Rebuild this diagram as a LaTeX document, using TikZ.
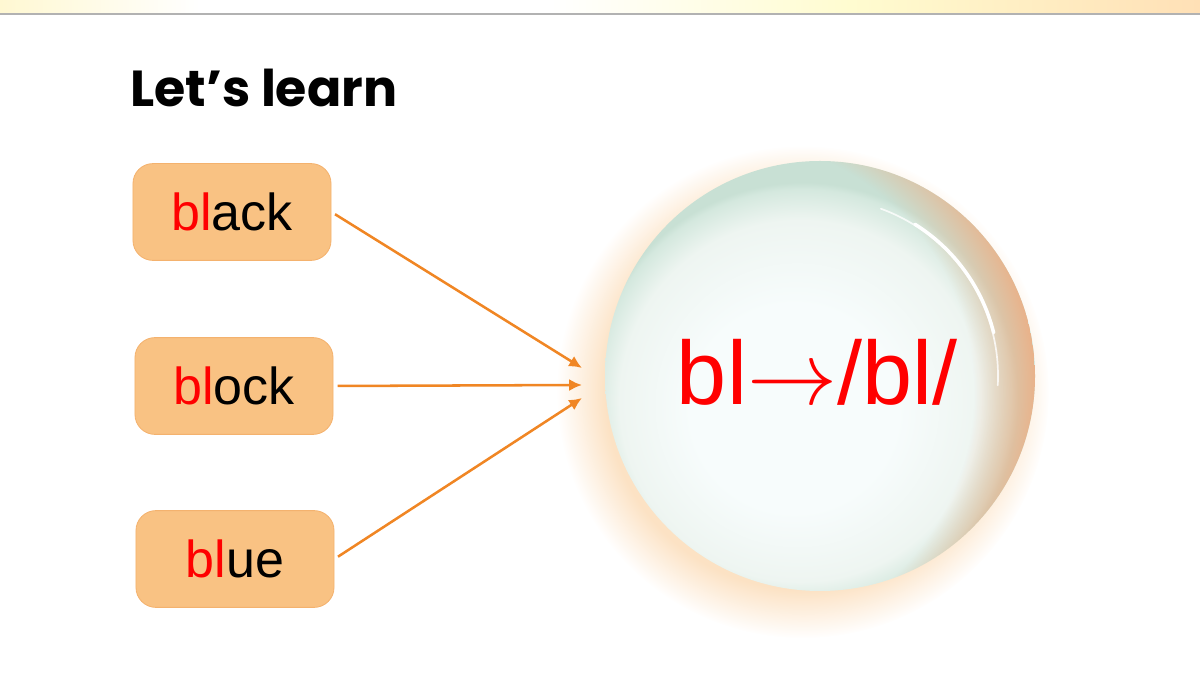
\documentclass[tikz,border=0pt]{standalone}
\usepackage{fix-cm}
\usepackage{fontspec}
\setmainfont{Liberation Sans}
\newfontfamily\titlefont{Poppins}
\usetikzlibrary{arrows.meta,positioning,fadings}
\definecolor{boxfill}{RGB}{249,194,131}
\definecolor{boxline}{RGB}{244,178,110}
\definecolor{linkorange}{RGB}{240,134,36}
\definecolor{ballcore}{RGB}{247,252,252}
\definecolor{ballsoft}{RGB}{238,245,241}
\definecolor{ballmint}{RGB}{212,232,222}
\definecolor{balledge}{RGB}{200,224,212}
\definecolor{ballpeach}{RGB}{238,172,128}
\definecolor{glowpeach}{RGB}{252,226,196}
\definecolor{bandyellow}{RGB}{255,248,210}
\definecolor{bandlemon}{RGB}{255,252,208}
\definecolor{bandpeach}{RGB}{255,224,182}
% body of the ball and its warm rim (25bp = edge of the path)
\pgfdeclareradialshading{ballshade}{\pgfpoint{-4bp}{-5bp}}{color(0bp)=(ballcore); color(12bp)=(ballcore); color(21bp)=(ballsoft); color(24.3bp)=(ballmint); color(25bp)=(balledge); color(50bp)=(balledge)}
\pgfdeclareradialshading{rimshade}{\pgfpointorigin}{color(0bp)=(black); color(20bp)=(black); color(25bp)=(white); color(50bp)=(white)}
\pgfdeclarefading{rimfade}{\pgfuseshading{rimshade}}

\begin{document}
\begin{tikzpicture}[x=0.025cm, y=0.025cm,
    word/.style={rectangle, rounded corners=0.5cm, fill=boxfill, draw=boxline, line width=0.6pt, minimum width=4.95cm, minimum height=2.42cm, font=\fontsize{37}{40}\selectfont},
    link/.style={-{Latex[length=0.32cm, width=0.3cm]}, draw=linkorange, fill=linkorange, line width=1.8pt, shorten <=3pt},
    glare/.style={white, line cap=round}
  ]
    \useasboundingbox (0,0) rectangle (1200,675);
    % top band
    \shade[left color=bandyellow, right color=white] (0,661) rectangle (200,675);
    \fill[white] (200,661) rectangle (550,675);
    \shade[left color=white, right color=bandlemon] (550,661) rectangle (850,675);
    \shade[left color=bandlemon, right color=bandpeach] (850,661) rectangle (1200,675);
    \draw[black!30, line width=1pt] (0,661) -- (1200,661);

    \node[anchor=base west, inner sep=0pt, font=\titlefont\bfseries\fontsize{36}{40}\selectfont] (title) at (130,568) {Let’s learn};

    \node[word] (black) at (232,463) {\textcolor{red}{bl}ack};
    \node[word] (block) at (234,289) {\textcolor{red}{bl}ock};
    \node[word] (blue) at (235,116) {\textcolor{red}{bl}ue};

    % the ball
    \coordinate (ball) at (820,299);
    \fill[glowpeach, path fading=circle with fuzzy edge 20 percent] (803,283) circle (246);
    \shade[shading=ballshade] (ball) circle (215);
    \begin{scope}
      \clip (ball) circle (215);
      \fill[ballpeach, opacity=0.9, path fading=rimfade] ([shift={(-100,-15)}]ball) circle (316);
    \end{scope}
    \draw[glare, line width=1.2pt, opacity=0.8] ([shift={(70:178)}]ball) arc (70:-3:178);
    \draw[glare, line width=2.4pt] ([shift={(58:179)}]ball) arc (58:14:179);

    \node[anchor=base, inner sep=0pt, text=red, font=\fontsize{64}{70}\selectfont] (sound) at (817,270) {bl$\rightarrow$/bl/};

    \coordinate (in1) at (582,307);
    \coordinate (in2) at (582,290);
    \coordinate (in3) at (582,277);
    \draw[link] (black.east) -- (in1);
    \draw[link] (block.east) -- (in2);
    \draw[link] (blue.east) -- (in3);
  \end{tikzpicture}
\end{document}
